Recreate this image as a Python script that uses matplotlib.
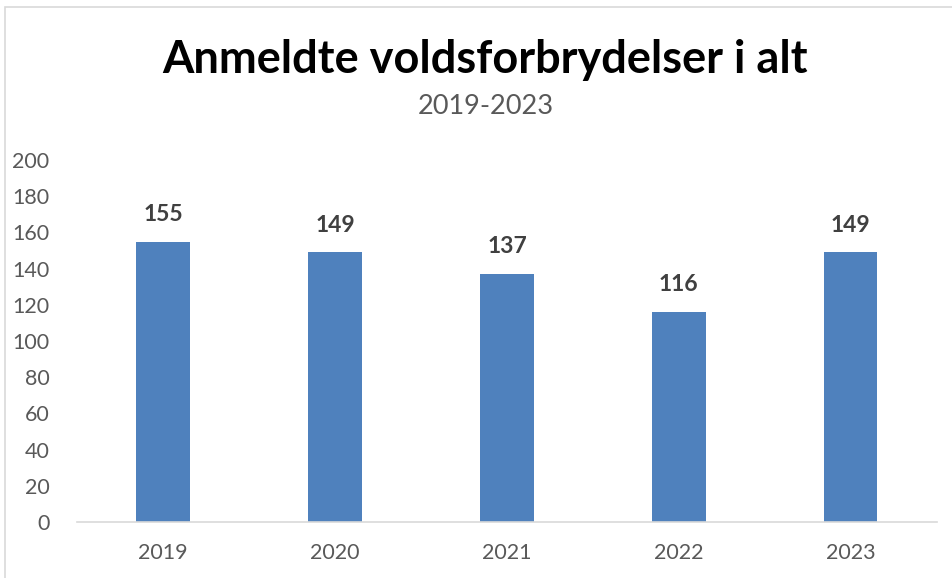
import matplotlib.pyplot as plt
from matplotlib.patches import Rectangle

years = ["2019", "2020", "2021", "2022", "2023"]
counts = [155, 149, 137, 116, 149]
y_ticks = list(range(0, 201, 20))

plt.rcParams['font.family'] = ['Lato', 'DejaVu Sans']

fig = plt.figure(figsize=(9.52, 5.78), dpi=100)
ax = fig.add_axes([0.081, 0.097, 0.903, 0.626])

x = range(len(years))
bars = ax.bar(x, counts, width=0.31, color='#4F81BD')
ax.bar_label(bars, labels=[str(v) for v in counts], padding=12,
             fontsize=16.5, fontweight='bold', color='#404040')

ax.set_xlim(-0.5, len(years) - 0.5)
ax.set_ylim(0, 200)
ax.set_yticks(y_ticks)
ax.set_xticks(list(x))
ax.set_xticklabels(years)
ax.tick_params(axis='both', length=0, labelsize=15.5, labelcolor='#595959')
ax.tick_params(axis='x', pad=15)
ax.tick_params(axis='y', pad=20)
for s in ['top', 'right', 'left']:
    ax.spines[s].set_visible(False)
ax.spines['bottom'].set_color('#D9D9D9')
ax.spines['bottom'].set_linewidth(1.2)

fig.text(0.51, 0.897, "Anmeldte voldsforbrydelser i alt", ha='center', va='center',
         fontsize=32.5, fontweight='bold', color='black')
fig.text(0.51, 0.815, "2019-2023", ha='center', va='center',
         fontsize=19.5, color='#595959')

# light frame around chart area
fig.patches.append(Rectangle((5 / 952, -0.05), 1.1, (578 - 7) / 578 + 0.05,
                             transform=fig.transFigure, fill=False,
                             edgecolor='#D9D9D9', linewidth=1.2))

fig.savefig('out.png', dpi=100)
